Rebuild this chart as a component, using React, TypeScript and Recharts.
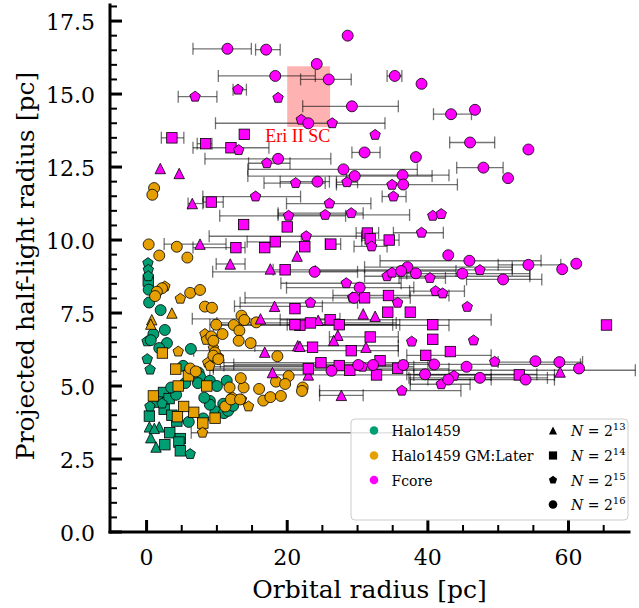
import React from 'react';
import { ScatterChart, Scatter, XAxis, YAxis, ErrorBar, ReferenceArea, ReferenceDot } from 'recharts';

type Pt = number[];

// [x, y, xLow?, xHigh?]
const haloN13: Pt[] = [[0.4, 3.6], [1.8, 3.6], [0.6, 3.23], [1.35, 2.91], [1.1, 3.55]];
const haloN14: Pt[] = [
  [0.4, 3.97], [2.5, 4.2], [2.4, 4.78], [3.2, 4.57], [4.3, 3.8], [3.3, 3.4], [4.8, 3.2], [4.6, 3.08],
  [2.6, 2.99], [4.8, 2.78], [1.5, 4.45], [0.24, 8.6], [3.6, 4.0],
];
const haloN15: Pt[] = [
  [0.2, 9.21], [0.25, 8.98], [0.24, 8.76], [0.07, 6.53], [0.1, 5.92], [0.5, 5.56], [0.48, 4.3], [6.2, 2.67], [2.2, 4.4],
];
const haloN16: Pt[] = [
  [0.36, 7.86], [2.0, 7.6], [2.6, 6.92], [0.97, 6.78], [0.6, 6.57], [2.9, 6.47], [6.3, 6.27], [5.2, 5.69],
  [6.2, 5.52], [7.4, 5.46], [7.6, 5.32], [9.0, 5.18], [10.0, 5.0], [11.4, 5.18], [9.0, 4.49], [10.9, 4.39],
  [6.0, 3.77], [8.06, 3.89], [9.8, 4.13], [11.0, 4.07], [9.0, 4.36], [11.6, 4.15], [12.3, 4.32], [5.5, 5.1],
  [7.3, 5.1], [4.2, 4.7], [8.2, 4.6], [1.8, 6.3], [0.3, 8.3], [3.5, 4.95],
];

const laterN13: Pt[] = [[3.6, 7.5], [0.74, 7.27], [0.6, 7.12]];
const laterN14: Pt[] = [
  [2.25, 6.13], [4.15, 5.58], [5.95, 5.35], [4.5, 5.0], [8.56, 5.0], [0.97, 4.66], [6.7, 4.1], [9.74, 3.9],
  [8.0, 3.73], [5.27, 4.3], [4.39, 3.95],
];
const laterN15: Pt[] = [
  [2.6, 8.41], [4.8, 7.99], [8.3, 6.78], [8.5, 6.58], [4.5, 6.18], [9.5, 6.3], [10.2, 6.0], [8.7, 5.8],
  [9.0, 5.69], [7.96, 3.4, 6.35, 42.0], [12.2, 4.62], [13.5, 4.54], [14.5, 4.3],
];
const laterN16: Pt[] = [
  [1.07, 11.78], [0.82, 11.55], [0.3, 9.85], [4.3, 9.77], [1.8, 9.47], [5.8, 9.4], [2.2, 8.35], [1.46, 8.23],
  [1.21, 8.08], [6.2, 8.19], [7.6, 8.29], [8.3, 7.72], [9.3, 7.68], [9.9, 7.1], [13.5, 7.41], [13.9, 7.26],
  [15.6, 7.18], [12.4, 7.09], [10.8, 6.78], [13.2, 6.9], [13.1, 6.55], [14.8, 6.47], [9.2, 6.7], [9.5, 6.55],
  [9.7, 6.15], [9.5, 6.04], [10.2, 5.92], [18.6, 6.02], [20.2, 5.34], [18.4, 5.15], [19.7, 5.07], [22.2, 4.95],
  [16.0, 4.9], [13.8, 4.95], [11.8, 4.95], [13.4, 5.27], [6.2, 5.6], [7.0, 5.5], [11.2, 4.3], [12.0, 4.54],
  [13.3, 4.54], [16.6, 4.5], [17.6, 4.62], [19.1, 4.66], [22.1, 4.83],
];

const fcoreN13: Pt[] = [
  [1.95, 12.45], [4.64, 12.28], [6.5, 11.25, 5.9, 8.0], [7.6, 9.86, 2.5, 11.3], [21.4, 9.45],
  [11.9, 9.18, 9.9, 14.0], [17.6, 9.01], [18.2, 7.73, 12.5, 25.0], [30.8, 7.47], [32.5, 7.39],
  [16.2, 7.3, 6.5, 27.5], [24.4, 7.25], [27.2, 6.74], [26.6, 6.56], [21.5, 6.38, 15.4, 35.8], [21.8, 6.36],
  [31.2, 6.33], [16.8, 6.16], [17.9, 5.46], [23.0, 5.38], [58.8, 5.48], [27.7, 4.68, 24.6, 30.8],
];
const fcoreN14: Pt[] = [
  [13.9, 13.62], [3.6, 13.5, 2.1, 5.3], [8.4, 13.3, 7.2, 9.3], [12.0, 13.16, 6.6, 17.4], [9.2, 11.3, 8.1, 10.9],
  [13.8, 10.53], [20.0, 10.45], [31.4, 10.24, 29.8, 33.0], [31.8, 10.04], [34.5, 10.0, 30.6, 35.9],
  [12.7, 9.74, 6.6, 14.0], [18.3, 9.94, 14.3, 22.0], [16.8, 9.74], [22.5, 9.77], [26.2, 9.86, 25.4, 27.6],
  [19.7, 8.98, 18.0, 52.0], [31.0, 8.02], [34.4, 8.1, 26.5, 43.0], [21.1, 7.65], [34.3, 7.53], [37.5, 7.53],
  [26.1, 7.27, 19.0, 49.0], [27.4, 7.1, 20.0, 36.0], [23.3, 7.16, 10.0, 35.5], [21.8, 7.08, 9.5, 43.0],
  [21.1, 7.1, 9.0, 35.0], [40.7, 7.1], [65.4, 7.09], [31.8, 6.68, 26.0, 35.8], [40.7, 6.6], [23.6, 6.33],
  [29.1, 6.21, 6.7, 35.8], [39.7, 6.05, 37.0, 49.0], [43.2, 6.18], [24.8, 5.8, 10.5, 40.0],
  [27.4, 5.7, 11.0, 36.0], [23.0, 5.59, 9.5, 43.0], [28.9, 5.54, 9.0, 69.5], [32.7, 5.38, 18.0, 49.0],
  [33.2, 5.87], [35.7, 5.61], [53.0, 5.38, 38.0, 58.0],
];
const fcoreN15: Pt[] = [
  [6.9, 14.91, 4.5, 10.0], [13.0, 15.15, 12.3, 14.2], [18.7, 14.87], [22.0, 14.12], [26.4, 14.0], [32.5, 13.6],
  [13.1, 13.08], [17.1, 12.63, 14.5, 20.4], [21.2, 11.95, 16.7, 25.4], [28.5, 11.98, 27.0, 30.0], [34.9, 11.89],
  [15.5, 11.49, 8.0, 21.9], [35.1, 11.49, 33.5, 36.9], [26.0, 11.25, 19.9, 31.9], [20.2, 10.83, 10.4, 28.3],
  [25.4, 10.86, 18.7, 37.4], [29.1, 10.92, 18.7, 30.8], [40.7, 10.83], [41.9, 10.89], [22.7, 10.13, 8.9, 30.6],
  [39.1, 10.25, 35.1, 42.2], [32.0, 9.78, 29.5, 34.2], [47.4, 8.97], [34.2, 8.76, 31.0, 54.5], [34.9, 8.88],
  [40.3, 8.7, 35.9, 42.5], [28.4, 8.52, 19.1, 36.2], [41.1, 8.25, 37.4, 45.2], [42.1, 8.17], [29.3, 8.03],
  [23.3, 7.85, 13.3, 30.0], [35.7, 7.85], [45.6, 7.71], [37.7, 6.52], [46.5, 6.56], [49.5, 5.83],
  [30.7, 5.66, 9.5, 38.0], [41.9, 5.06, 37.5, 46.0], [43.7, 5.35], [36.3, 4.84, 24.6, 44.7],
];
const fcoreN16: Pt[] = [
  [28.6, 17.0], [11.5, 16.55, 6.6, 14.9], [17.0, 16.52, 15.5, 19.0], [24.2, 16.03], [18.3, 15.62, 10.2, 24.0],
  [25.9, 15.5, 21.9, 29.1], [35.3, 15.62, 34.2, 36.3], [39.1, 15.35], [29.2, 14.58, 22.2, 35.8],
  [43.3, 14.31, 40.8, 46.2], [46.7, 14.46], [23.0, 14.0, 9.8, 33.9], [46.0, 13.34, 43.1, 49.5], [54.3, 13.1],
  [31.0, 13.0, 29.2, 33.2], [38.3, 12.84], [18.7, 12.78, 8.3, 26.2], [28.0, 12.42, 14.4, 38.5],
  [47.9, 12.48, 44.1, 50.7], [29.6, 12.19, 14.4, 40.6], [36.4, 12.22, 28.4, 43.0], [51.4, 12.12],
  [24.3, 12.0, 19.0, 26.0], [36.5, 11.9, 27.0, 44.2], [42.9, 9.48], [45.9, 9.29, 33.2, 56.1],
  [54.3, 9.15, 50.0, 58.9], [61.1, 9.19], [59.1, 9.0], [37.1, 9.07, 31.0, 52.0], [36.2, 8.94, 24.0, 44.0],
  [38.3, 8.86], [23.9, 8.91, 9.4, 30.0], [44.9, 8.85, 37.0, 54.5], [50.7, 8.65, 45.5, 56.2],
  [30.3, 8.37, 19.9, 38.0], [29.5, 8.02, 14.0, 37.5], [30.1, 5.72], [32.2, 5.72], [26.3, 5.52], [36.5, 5.72],
  [47.4, 5.28, 37.3, 57.0], [42.9, 5.22, 37.5, 49.0], [53.9, 5.22, 40.0, 58.0], [55.3, 5.85],
  [58.7, 5.82, 50.0, 62.0], [61.5, 5.6], [45.5, 5.66], [40.9, 5.74, 12.4, 61.7], [39.6, 5.4, 37.0, 55.5],
];

const X_TICKS = [0, 5, 10, 15, 20, 25, 30, 35, 40, 45, 50, 55, 60, 65];
const X_MAJOR = [0, 20, 40, 60];
const Y_TICKS = [0, 0.5, 1, 1.5, 2, 2.5, 3, 3.5, 4, 4.5, 5, 5.5, 6, 6.5, 7, 7.5, 8, 8.5, 9, 9.5, 10, 10.5, 11, 11.5,
  12, 12.5, 13, 13.5, 14, 14.5, 15, 15.5, 16, 16.5, 17, 17.5, 18];
const Y_MAJOR = [0, 2.5, 5, 7.5, 10, 12.5, 15, 17.5];
const X_DOMAIN: [number, number] = [-5.2, 68.6];
const Y_DOMAIN: [number, number] = [0, 18.05];

const SIM_NAMES = ['Halo1459', 'Halo1459 GM:Later', 'Fcore'];
const SIM_COLORS = ['#009E73', '#E69F00', '#FF00FF'];
const N_EXPONENTS = ['13', '14', '15', '16'];
const N_SHAPES = ['triangle', 'square', 'pentagon', 'circle'];

const SERIES: { sim: number; n: number; pts: Pt[] }[] = [
  { sim: 0, n: 0, pts: haloN13 }, { sim: 0, n: 1, pts: haloN14 }, { sim: 0, n: 2, pts: haloN15 }, { sim: 0, n: 3, pts: haloN16 },
  { sim: 1, n: 0, pts: laterN13 }, { sim: 1, n: 1, pts: laterN14 }, { sim: 1, n: 2, pts: laterN15 }, { sim: 1, n: 3, pts: laterN16 },
  { sim: 2, n: 0, pts: fcoreN13 }, { sim: 2, n: 1, pts: fcoreN14 }, { sim: 2, n: 2, pts: fcoreN15 }, { sim: 2, n: 3, pts: fcoreN16 },
];

const FONT = "'DejaVu Serif', serif";
// plot-area edges (chart margins + axis sizes)
const PLOT_LEFT = 110;
const PLOT_RIGHT = 629;
const PLOT_TOP = 5;
const PLOT_BOTTOM = 532;

const toRows = (pts: Pt[]) =>
  pts.map((p) => ({ x: p[0], y: p[1], err: p.length > 2 ? [p[0] - p[2], p[3] - p[0]] : undefined }));

function markerEl(kind: string, cx: number, cy: number, fill: string, s: number, stroke: string, sw: number, key?: string) {
  if (kind === 'circle') return <circle key={key} cx={cx} cy={cy} r={s} fill={fill} stroke={stroke} strokeWidth={sw} />;
  if (kind === 'square') {
    const h = s * 0.95;
    return <rect key={key} x={cx - h} y={cy - h} width={2 * h} height={2 * h} fill={fill} stroke={stroke} strokeWidth={sw} />;
  }
  if (kind === 'triangle') {
    const h = s * 0.95;
    return <polygon key={key} points={`${cx},${cy - h} ${cx - h},${cy + h} ${cx + h},${cy + h}`} fill={fill} stroke={stroke} strokeWidth={sw} />;
  }
  const pts: string[] = [];
  for (let i = 0; i < 5; i++) {
    const a = -Math.PI / 2 + (i * 2 * Math.PI) / 5;
    pts.push(`${cx + s * Math.cos(a)},${cy + s * Math.sin(a)}`);
  }
  return <polygon key={key} points={pts.join(' ')} fill={fill} stroke={stroke} strokeWidth={sw} />;
}

const makeShape = (kind: string, color: string) => (props: any) => {
  const { cx, cy } = props;
  if (cx == null || cy == null) return <g />;
  return markerEl(kind, cx, cy, color, 5.5, '#000', 0.8);
};

const BottomTick = (props: any) => {
  const { x, payload } = props;
  const v = payload.value;
  const major = X_MAJOR.includes(v);
  return (
    <g>
      <line x1={x} x2={x} y1={PLOT_BOTTOM} y2={PLOT_BOTTOM - (major ? 12 : 7)} stroke="#000" strokeWidth={major ? 3 : 2} />
      {major ? (
        <text x={x} y={PLOT_BOTTOM + 33} textAnchor="middle" fontFamily={FONT} fontSize={22} fill="#000">{v}</text>
      ) : null}
    </g>
  );
};
const TopTick = (props: any) => {
  const { x, payload } = props;
  const major = X_MAJOR.includes(payload.value);
  return <line x1={x} x2={x} y1={PLOT_TOP} y2={PLOT_TOP + (major ? 12 : 7)} stroke="#000" strokeWidth={major ? 3 : 2} />;
};
const LeftTick = (props: any) => {
  const { y, payload } = props;
  const v = payload.value;
  const major = Y_MAJOR.includes(v);
  return (
    <g>
      <line x1={PLOT_LEFT} x2={PLOT_LEFT + (major ? 12 : 7)} y1={y} y2={y} stroke="#000" strokeWidth={major ? 3 : 2} />
      {major ? (
        <text x={PLOT_LEFT - 15} y={y + 9} textAnchor="end" fontFamily={FONT} fontSize={22} fill="#000">{v.toFixed(1)}</text>
      ) : null}
    </g>
  );
};
const RightTick = (props: any) => {
  const { y, payload } = props;
  const major = Y_MAJOR.includes(payload.value);
  return <line x1={PLOT_RIGHT} x2={PLOT_RIGHT - (major ? 12 : 7)} y1={y} y2={y} stroke="#000" strokeWidth={major ? 3 : 2} />;
};

const AXIS_LINE = { stroke: '#000', strokeWidth: 3, strokeLinecap: 'square' as const };

const LEG_ROWS = [436, 461, 485.5, 510];

export default function App() {
  return (
    <div style={{ position: 'absolute', left: 0, top: 0, width: 639, height: 608, background: '#fff' }}>
      <ScatterChart width={639} height={608} margin={{ top: 5, right: 10, bottom: 0, left: 0 }}>
        <XAxis xAxisId="b" type="number" dataKey="x" orientation="bottom" height={76} domain={X_DOMAIN}
          allowDataOverflow ticks={X_TICKS} interval={0} tickSize={0} tickMargin={0} tickLine={false}
          axisLine={AXIS_LINE} tick={(p: any) => <BottomTick {...p} />} />
        <XAxis xAxisId="t" type="number" dataKey="x" orientation="top" height={0} domain={X_DOMAIN}
          allowDataOverflow ticks={X_TICKS} interval={0} tickSize={0} tickMargin={0} tickLine={false}
          axisLine={AXIS_LINE} tick={(p: any) => <TopTick {...p} />} />
        <YAxis yAxisId="l" type="number" dataKey="y" orientation="left" width={110} domain={Y_DOMAIN}
          allowDataOverflow ticks={Y_TICKS} interval={0} tickSize={0} tickMargin={0} tickLine={false}
          axisLine={AXIS_LINE} tick={(p: any) => <LeftTick {...p} />} />
        <YAxis yAxisId="r" type="number" dataKey="y" orientation="right" width={0} domain={Y_DOMAIN}
          allowDataOverflow ticks={Y_TICKS} interval={0} tickSize={0} tickMargin={0} tickLine={false}
          axisLine={AXIS_LINE} tick={(p: any) => <RightTick {...p} />} />
        {SERIES.map((s, i) => (
          <Scatter key={i} name={`${SIM_NAMES[s.sim]} N=2^${N_EXPONENTS[s.n]}`} xAxisId="b" yAxisId="l"
            data={toRows(s.pts)} isAnimationActive={false}
            shape={makeShape(N_SHAPES[s.n], SIM_COLORS[s.sim])}>
            <ErrorBar dataKey="err" direction="x" width={6} stroke="rgba(0,0,0,0.55)" strokeWidth={1.3} isAnimationActive={false} />
          </Scatter>
        ))}
        <ReferenceArea xAxisId="b" yAxisId="l" x1={20} x2={26.1} y1={13.87} y2={15.95}
          fill="#ff0000" fillOpacity={0.3} stroke="none" />
        <ReferenceDot xAxisId="b" yAxisId="l" x={21.5} y={13.56} r={1} fill="none" stroke="none"
          label={{ value: 'Eri II SC', position: 'center', fill: '#ff0000', fontSize: 18, fontFamily: "'Liberation Serif', serif" }} />
      </ScatterChart>
      <svg width={639} height={608} style={{ position: 'absolute', left: 0, top: 0, pointerEvents: 'none' }}>
        <text x={369.5} y={598} textAnchor="middle" fontFamily={FONT} fontSize={25} fill="#000">Orbital radius [pc]</text>
        <text x={34} y={266} textAnchor="middle" fontFamily={FONT} fontSize={25} fill="#000"
          transform="rotate(-90 34 266)">Projected half-light radius [pc]</text>
        <rect x={351} y={419} width={277} height={101} rx={4} fill="#fff" fillOpacity={0.8} stroke="#cccccc" strokeWidth={1} />
        {SIM_NAMES.map((n, i) => (
          <g key={n}>
            <circle cx={374} cy={LEG_ROWS[i] - 5.5} r={4.3} fill={SIM_COLORS[i]} />
            <text x={391.5} y={LEG_ROWS[i]} fontFamily={FONT} fontSize={14} fill="#000">{n}</text>
          </g>
        ))}
        {N_EXPONENTS.map((e, i) => (
          <g key={e}>
            {markerEl(N_SHAPES[i], 553, LEG_ROWS[i] - 5.5, '#000', 4.3, 'none', 0)}
            <text x={571} y={LEG_ROWS[i]} fontFamily={FONT} fontSize={14} fill="#000">
              <tspan fontStyle="italic">N</tspan>
              <tspan> = 2</tspan>
              <tspan dy={-6} fontSize={10}>{e}</tspan>
            </text>
          </g>
        ))}
      </svg>
    </div>
  );
}
